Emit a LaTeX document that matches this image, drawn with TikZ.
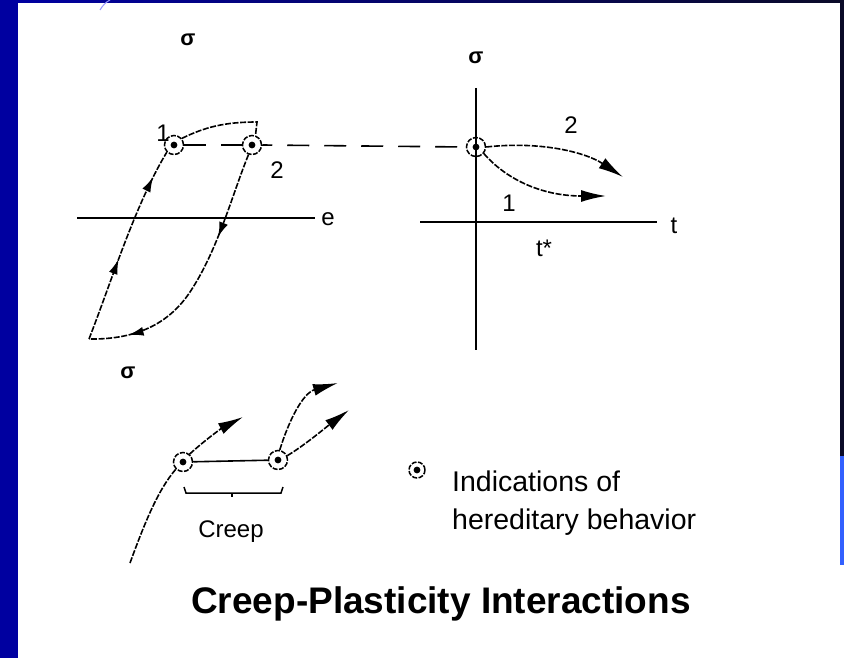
\documentclass[tikz,border=0pt]{standalone}
\usepackage{fontspec}
\setmainfont{Liberation Sans}
\usetikzlibrary{arrows.meta,decorations.markings}
\definecolor{slideblue}{RGB}{0,0,160}
\definecolor{darknavy}{RGB}{10,10,40}
\definecolor{brightblue}{RGB}{50,96,255}
\begin{document}
\begin{tikzpicture}[x=1pt,y=-1pt,
  axisline/.style={line width=1.9pt},
  crv/.style={line width=1.6pt, dash pattern=on 6pt off 1.6pt},
  longdash/.style={line width=1.6pt, dash pattern=on 22pt off 15pt},
  hb/.style={circle, draw, line width=1.5pt, dash pattern=on 5pt off 1.5pt,
    minimum size=19pt, inner sep=0pt,
    path picture={\fill (path picture bounding box.center) circle (3.4pt);}},
  bigtip/.style={-{Latex[length=25pt,width=12pt]}},
  midarr/.style={postaction={decorate,decoration={markings,
    mark=at position #1 with {\arrow{Latex[length=15pt,width=9pt]}}}}},
  lbl/.style={font=\fontsize{24}{28}\selectfont, inner sep=0pt},
  sig/.style={font=\bfseries\fontsize{22}{26}\selectfont, inner sep=0pt},
  legtxt/.style={font=\fontsize{28.5}{38}\selectfont, inner sep=0pt, anchor=base west}]
\useasboundingbox (0,0) rectangle (844,658);
% slide frame
\fill[white] (0,0) rectangle (844,658);
\fill[slideblue] (0,0) rectangle (18,658);
\shade[left color=slideblue, right color=darknavy] (18,0) rectangle (844,3);
\fill[darknavy] (840,0) rectangle (844,456);
\fill[brightblue] (840,456) rectangle (844,565);
\draw[blue!40, line width=1pt] (100,10) .. controls (103,5) and (106,2) .. (110,0);

% ---------- stress-strain loop ----------
\node[sig] (s1) at (188,40) {σ};
\draw[axisline] (77,218) coordinate (ex0) -- (315,218) coordinate (ex1);
\node[lbl] (le) at (328,219) {e};

\node[hb] (c1) at (174,145) {};
\node[hb] (c2) at (252,145) {};
\node[lbl] (n1) at (163,133) {1};
\node[lbl] (n2) at (277,170) {2};

\coordinate (p0) at (89,339);
\draw[crv, midarr=0.42, midarr=0.86] (p0) .. controls (112,280) and (135,205) .. (c1.225);
\draw[crv, midarr=0.33, midarr=0.85] (c2.250) .. controls (232,195) and (218,250) .. (190,292)
   .. controls (170,322) and (140,338) .. (96,339) -- (p0);
\coordinate (arcend) at (257,122);
\draw[crv] (c1.40) .. controls (205,127) and (225,122) .. (arcend) -- (c2.70);
\draw[longdash] (c1.east) -- (c2.west);

% ---------- stress-time plot ----------
\node[sig] (s2) at (476,58) {σ};
\draw[axisline] (476,88) coordinate (vy0) -- (476,350) coordinate (vy1);
\draw[axisline] (420,222) coordinate (tx0) -- (657,222) coordinate (tx1);
\node[lbl] (lt) at (674,226) {t};
\node[lbl] (lts) at (544,248) {t*};
\node[hb] (c3) at (476,147) {};
\draw[longdash, dash phase=12pt] (c2.east) -- (c3.west);
\coordinate (tip2) at (623,177);
\coordinate (tip1) at (606,196);
\draw[crv, bigtip] (c3.east) .. controls (540,141) and (585,152) .. (tip2);
\draw[crv, bigtip] (c3.-40) .. controls (505,178) and (540,196) .. (tip1);
\node[lbl] (r2) at (571,125) {2};
\node[lbl] (r1) at (509,203) {1};

% ---------- creep detail ----------
\node[sig] (s3) at (128,373) {σ};
\node[hb] (cA) at (183,462) {};
\node[hb] (cB) at (278,460) {};
\draw[line width=1.6pt] (cA) -- (cB);
\coordinate (low) at (130,563);
\draw[crv] (low) .. controls (145,522) and (158,490) .. (cA.225);
\coordinate (tipA) at (243,417);
\coordinate (tipB1) at (338,383);
\coordinate (tipB2) at (349,410);
\draw[crv, bigtip] (cA.50) .. controls (205,440) and (222,428) .. (tipA);
\draw[crv, bigtip] (cB.80) .. controls (289,420) and (303,393) .. (tipB1);
\draw[crv, bigtip] (cB.25) .. controls (305,445) and (325,428) .. (tipB2);
\draw[line width=1.5pt] (184,487) -- (186,493) -- (281,493) -- (283,487);
\draw[line width=1.5pt] (232,493) -- (232,497);
\node[lbl] (creep) at (231,532) {Creep};

% ---------- legend ----------
\node[hb, minimum size=16pt] (cL) at (417,470) {};
\node[legtxt] (leg1) at (452,491) {Indications of};
\node[legtxt] (leg2) at (452,529) {hereditary behavior};

% ---------- title ----------
\node[font=\bfseries\fontsize{37}{40}\selectfont, inner sep=0pt, anchor=base] (title) at (441,613) {Creep-Plasticity Interactions};
\end{tikzpicture}
\end{document}
